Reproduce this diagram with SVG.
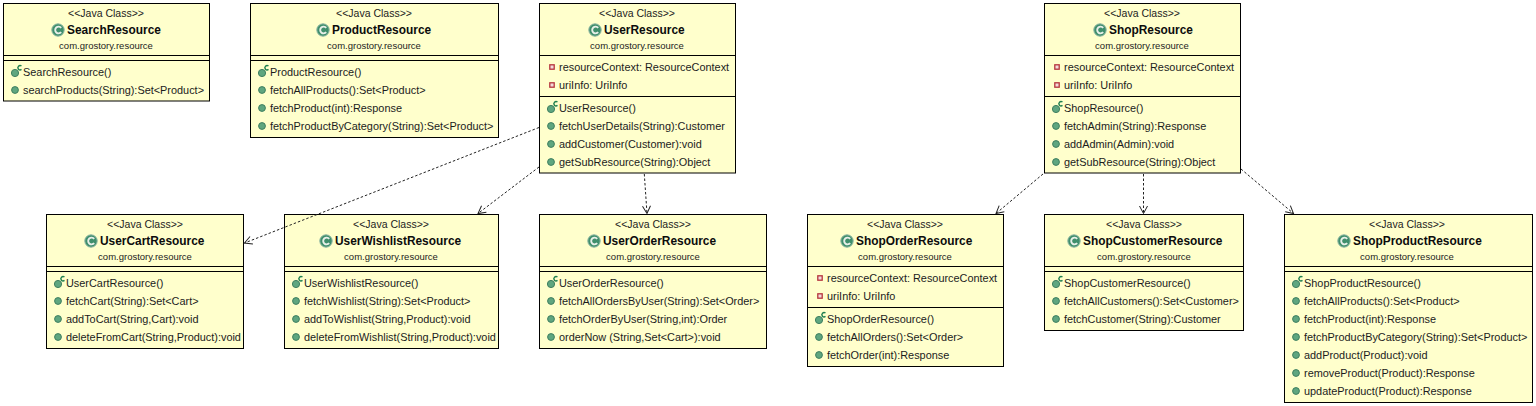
<svg xmlns="http://www.w3.org/2000/svg" width="1536" height="406" viewBox="0 0 1536 406">
<style>
text{font-family:"Liberation Sans",Arial,sans-serif;fill:#1c1c1c}
.b{fill:#ffffcc;stroke:#000;stroke-width:1}
.l{stroke:#000;stroke-width:1}
.s{font-size:10.5px;text-anchor:middle}
.t{font-size:11.9px;font-weight:bold;fill:#0c0c0c}
.p{font-size:9.5px;text-anchor:middle}
.m{font-size:10.9px}
.c{fill:none;stroke:#222;stroke-width:1;stroke-dasharray:2.5 2;marker-end:url(#arrow)}
.h{fill:none;stroke:#222;stroke-width:1}
</style>
<defs>
<marker id="arrow" markerUnits="userSpaceOnUse" markerWidth="12" markerHeight="12" refX="10" refY="6" orient="auto"><path class="h" d="M2.5 2L10 6L2.5 10"/></marker>
<g id="ci"><circle r="6.2" fill="#3f8f6c" stroke="#8cb5a2" stroke-width="1"/><path d="M3.2 -2.2A3.4 3.4 0 1 0 3.2 2.2" fill="none" stroke="#e8efe9" stroke-width="1.9"/></g>
<g id="ct"><circle cx="0" cy="1" r="3.6" fill="#5fa67f" stroke="#3f7f60" stroke-width="1"/><path d="M6.5 -6A2.2 2.2 0 1 0 6.5 -2.6" fill="none" stroke="#1f7f4f" stroke-width="1.4"/></g>
<circle id="mt" r="3.4" fill="#5fa67f" stroke="#3f7f60" stroke-width="1"/>
<g id="at"><rect x="-2.2" y="-2.2" width="4.4" height="4.4" fill="#f3dada" stroke="#b5343c" stroke-width="1.3"/></g>
</defs>
<rect width="1536" height="406" fill="#fff"/>
<g id="SearchResource">
<rect class="b" x="3.5" y="3.5" width="206" height="97.5"/><path class="l" d="M3.5 55.5H209.5M3.5 60.5H209.5"/>
<text class="s" x="106" y="17">&lt;&lt;Java Class&gt;&gt;</text><use href="#ci" x="58" y="30"/><text class="t" x="67" y="34">SearchResource</text><text class="p" x="106" y="49">com.grostory.resource</text>
<use href="#ct" x="15" y="72"/><text class="m" x="23" y="76">SearchResource()</text>
<use href="#mt" x="15" y="90"/><text class="m" x="23" y="94">searchProducts(String):Set&lt;Product&gt;</text>
</g>
<g id="ProductResource">
<rect class="b" x="250.5" y="3.5" width="248" height="134"/><path class="l" d="M250.5 55.5H498.5M250.5 60.5H498.5"/>
<text class="s" x="374" y="17">&lt;&lt;Java Class&gt;&gt;</text><use href="#ci" x="323" y="30"/><text class="t" x="332" y="34">ProductResource</text><text class="p" x="374" y="49">com.grostory.resource</text>
<use href="#ct" x="262" y="72"/><text class="m" x="270" y="76">ProductResource()</text>
<use href="#mt" x="262" y="90"/><text class="m" x="270" y="94">fetchAllProducts():Set&lt;Product&gt;</text>
<use href="#mt" x="262" y="108"/><text class="m" x="270" y="112">fetchProduct(int):Response</text>
<use href="#mt" x="262" y="126"/><text class="m" x="270" y="130">fetchProductByCategory(String):Set&lt;Product&gt;</text>
</g>
<g id="UserResource">
<rect class="b" x="539.5" y="3.5" width="196" height="169.5"/><path class="l" d="M539.5 55.5H735.5M539.5 96.5H735.5"/>
<text class="s" x="637" y="17">&lt;&lt;Java Class&gt;&gt;</text><use href="#ci" x="595" y="30"/><text class="t" x="604" y="34">UserResource</text><text class="p" x="637" y="49">com.grostory.resource</text>
<use href="#at" x="552" y="67"/><text class="m" x="559" y="71">resourceContext: ResourceContext</text>
<use href="#at" x="552" y="85"/><text class="m" x="559" y="89">uriInfo: UriInfo</text>
<use href="#ct" x="551" y="108"/><text class="m" x="559" y="112">UserResource()</text>
<use href="#mt" x="551" y="126"/><text class="m" x="559" y="130">fetchUserDetails(String):Customer</text>
<use href="#mt" x="551" y="144"/><text class="m" x="559" y="148">addCustomer(Customer):void</text>
<use href="#mt" x="551" y="162"/><text class="m" x="559" y="166">getSubResource(String):Object</text>
</g>
<g id="ShopResource">
<rect class="b" x="1044.5" y="3.5" width="196" height="169.5"/><path class="l" d="M1044.5 55.5H1240.5M1044.5 96.5H1240.5"/>
<text class="s" x="1142" y="17">&lt;&lt;Java Class&gt;&gt;</text><use href="#ci" x="1100" y="30"/><text class="t" x="1109" y="34">ShopResource</text><text class="p" x="1142" y="49">com.grostory.resource</text>
<use href="#at" x="1057" y="67"/><text class="m" x="1064" y="71">resourceContext: ResourceContext</text>
<use href="#at" x="1057" y="85"/><text class="m" x="1064" y="89">uriInfo: UriInfo</text>
<use href="#ct" x="1056" y="108"/><text class="m" x="1064" y="112">ShopResource()</text>
<use href="#mt" x="1056" y="126"/><text class="m" x="1064" y="130">fetchAdmin(String):Response</text>
<use href="#mt" x="1056" y="144"/><text class="m" x="1064" y="148">addAdmin(Admin):void</text>
<use href="#mt" x="1056" y="162"/><text class="m" x="1064" y="166">getSubResource(String):Object</text>
</g>
<g id="UserCartResource">
<rect class="b" x="46.5" y="214.5" width="197" height="134"/><path class="l" d="M46.5 266.5H243.5M46.5 271.5H243.5"/>
<text class="s" x="145" y="228">&lt;&lt;Java Class&gt;&gt;</text><use href="#ci" x="91" y="241"/><text class="t" x="100" y="245">UserCartResource</text><text class="p" x="145" y="260">com.grostory.resource</text>
<use href="#ct" x="58" y="283"/><text class="m" x="66" y="287">UserCartResource()</text>
<use href="#mt" x="58" y="301"/><text class="m" x="66" y="305">fetchCart(String):Set&lt;Cart&gt;</text>
<use href="#mt" x="58" y="319"/><text class="m" x="66" y="323">addToCart(String,Cart):void</text>
<use href="#mt" x="58" y="337"/><text class="m" x="66" y="341">deleteFromCart(String,Product):void</text>
</g>
<g id="UserWishlistResource">
<rect class="b" x="284.5" y="214.5" width="214" height="134"/><path class="l" d="M284.5 266.5H498.5M284.5 271.5H498.5"/>
<text class="s" x="391" y="228">&lt;&lt;Java Class&gt;&gt;</text><use href="#ci" x="326" y="241"/><text class="t" x="335" y="245">UserWishlistResource</text><text class="p" x="391" y="260">com.grostory.resource</text>
<use href="#ct" x="296" y="283"/><text class="m" x="304" y="287">UserWishlistResource()</text>
<use href="#mt" x="296" y="301"/><text class="m" x="304" y="305">fetchWishlist(String):Set&lt;Product&gt;</text>
<use href="#mt" x="296" y="319"/><text class="m" x="304" y="323">addToWishlist(String,Product):void</text>
<use href="#mt" x="296" y="337"/><text class="m" x="304" y="341">deleteFromWishlist(String,Product):void</text>
</g>
<g id="UserOrderResource">
<rect class="b" x="539.5" y="214.5" width="227" height="134"/><path class="l" d="M539.5 266.5H766.5M539.5 271.5H766.5"/>
<text class="s" x="653" y="228">&lt;&lt;Java Class&gt;&gt;</text><use href="#ci" x="594" y="241"/><text class="t" x="603" y="245">UserOrderResource</text><text class="p" x="653" y="260">com.grostory.resource</text>
<use href="#ct" x="551" y="283"/><text class="m" x="559" y="287">UserOrderResource()</text>
<use href="#mt" x="551" y="301"/><text class="m" x="559" y="305">fetchAllOrdersByUser(String):Set&lt;Order&gt;</text>
<use href="#mt" x="551" y="319"/><text class="m" x="559" y="323">fetchOrderByUser(String,int):Order</text>
<use href="#mt" x="551" y="337"/><text class="m" x="559" y="341">orderNow (String,Set&lt;Cart&gt;):void</text>
</g>
<g id="ShopOrderResource">
<rect class="b" x="807.5" y="214.5" width="196" height="152"/><path class="l" d="M807.5 266.5H1003.5M807.5 307.5H1003.5"/>
<text class="s" x="905" y="228">&lt;&lt;Java Class&gt;&gt;</text><use href="#ci" x="847" y="241"/><text class="t" x="856" y="245">ShopOrderResource</text><text class="p" x="905" y="260">com.grostory.resource</text>
<use href="#at" x="820" y="278"/><text class="m" x="827" y="282">resourceContext: ResourceContext</text>
<use href="#at" x="820" y="296"/><text class="m" x="827" y="300">uriInfo: UriInfo</text>
<use href="#ct" x="819" y="319"/><text class="m" x="827" y="323">ShopOrderResource()</text>
<use href="#mt" x="819" y="337"/><text class="m" x="827" y="341">fetchAllOrders():Set&lt;Order&gt;</text>
<use href="#mt" x="819" y="355"/><text class="m" x="827" y="359">fetchOrder(int):Response</text>
</g>
<g id="ShopCustomerResource">
<rect class="b" x="1044.5" y="214.5" width="199" height="116"/><path class="l" d="M1044.5 266.5H1243.5M1044.5 271.5H1243.5"/>
<text class="s" x="1144" y="228">&lt;&lt;Java Class&gt;&gt;</text><use href="#ci" x="1074" y="241"/><text class="t" x="1083" y="245">ShopCustomerResource</text><text class="p" x="1144" y="260">com.grostory.resource</text>
<use href="#ct" x="1056" y="283"/><text class="m" x="1064" y="287">ShopCustomerResource()</text>
<use href="#mt" x="1056" y="301"/><text class="m" x="1064" y="305">fetchAllCustomers():Set&lt;Customer&gt;</text>
<use href="#mt" x="1056" y="319"/><text class="m" x="1064" y="323">fetchCustomer(String):Customer</text>
</g>
<g id="ShopProductResource">
<rect class="b" x="1284.5" y="214.5" width="248" height="188"/><path class="l" d="M1284.5 266.5H1532.5M1284.5 271.5H1532.5"/>
<text class="s" x="1407" y="228">&lt;&lt;Java Class&gt;&gt;</text><use href="#ci" x="1344" y="241"/><text class="t" x="1353" y="245">ShopProductResource</text><text class="p" x="1407" y="260">com.grostory.resource</text>
<use href="#ct" x="1296" y="283"/><text class="m" x="1304" y="287">ShopProductResource()</text>
<use href="#mt" x="1296" y="301"/><text class="m" x="1304" y="305">fetchAllProducts():Set&lt;Product&gt;</text>
<use href="#mt" x="1296" y="319"/><text class="m" x="1304" y="323">fetchProduct(int):Response</text>
<use href="#mt" x="1296" y="337"/><text class="m" x="1304" y="341">fetchProductByCategory(String):Set&lt;Product&gt;</text>
<use href="#mt" x="1296" y="355"/><text class="m" x="1304" y="359">addProduct(Product):void</text>
<use href="#mt" x="1296" y="373"/><text class="m" x="1304" y="377">removeProduct(Product):Response</text>
<use href="#mt" x="1296" y="391"/><text class="m" x="1304" y="395">updateProduct(Product):Response</text>
</g>
<g id="connectors">
<path class="c" d="M539 127.500L244.500 243"/>
<path class="c" d="M539 167L478 213.500"/>
<path class="c" d="M644.300 174L647 213.500"/>
<path class="c" d="M1043 174L996 213.500"/>
<path class="c" d="M1143.500 174V213.500"/>
<path class="c" d="M1241 169L1293.500 213.500"/>
</g>
</svg>
